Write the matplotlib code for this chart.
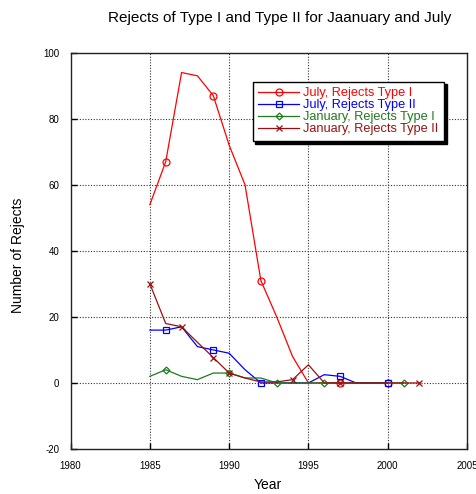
import matplotlib
matplotlib.use("Agg")
import matplotlib.pyplot as plt

plt.rcParams['font.family'] = ['Liberation Sans', 'DejaVu Sans']
plt.rcParams['axes.unicode_minus'] = False

# Data
years_jul1 = [1985, 1986, 1987, 1988, 1989, 1990, 1991, 1992, 1993, 1994, 1995, 1996, 1997, 1998, 1999, 2000]
jul_type1 = [54, 67, 94, 93, 87, 72, 60, 31, 20, 8, 0, 0, 0, 0, 0, 0]
mark_jul1 = [1, 4, 7, 12, 15]

years_jul2 = [1985, 1986, 1987, 1988, 1989, 1990, 1991, 1992, 1993, 1994, 1995, 1996, 1997, 1998, 2000]
jul_type2 = [16, 16, 17, 11, 10, 9, 4, 0, 0, 0, 0, 2.5, 2, 0, 0]
mark_jul2 = [1, 4, 7, 12, 14]

years_jan1 = [1985, 1986, 1987, 1988, 1989, 1990, 1991, 1992, 1993, 1994, 1995, 1996, 1997, 1998, 2000, 2001]
jan_type1 = [2, 4, 2, 1, 3, 3, 1.5, 1.5, 0, 0, 0, 0, 0, 0, 0, 0]
mark_jan1 = [1, 5, 8, 11, 15]

years_jan2 = [1985, 1986, 1987, 1988, 1989, 1990, 1991, 1992, 1993, 1994, 1995, 1996, 1997, 1998, 2000, 2002]
jan_type2 = [30, 18, 17, 12.3, 7.7, 3, 1.5, 0.3, 0.3, 1, 5.5, 0, 0, 0, 0, 0]
mark_jan2 = [0, 2, 4, 5, 9, 12, 15]

labels = ["July, Rejects Type I", "July, Rejects Type II",
          "January, Rejects Type I", "January, Rejects Type II"]
x_ticks = [1980, 1985, 1990, 1995, 2000, 2005]
y_ticks = [-20, 0, 20, 40, 60, 80, 100]

fig = plt.figure(figsize=(4.77, 4.94), dpi=100)
ax = fig.add_axes([0.148, 0.0911, 0.831, 0.8022])

red = '#ff0000'
blue = '#0000ff'
green = '#1e7a1e'
brown = '#9a1010'

ax.plot(years_jul1, jul_type1, color=red, lw=0.9, marker='o', ms=5, mfc='none',
        mec=red, mew=0.9, markevery=mark_jul1, label=labels[0])
ax.plot(years_jul2, jul_type2, color=blue, lw=0.9, marker='s', ms=5, mfc='none',
        mec=blue, mew=0.9, markevery=mark_jul2, label=labels[1])
ax.plot(years_jan1, jan_type1, color=green, lw=0.9, marker='D', ms=3.5, mfc='none',
        mec=green, mew=0.9, markevery=mark_jan1, label=labels[2])
ax.plot(years_jan2, jan_type2, color=brown, lw=0.9, marker='x', ms=5,
        mec=brown, mew=0.9, markevery=mark_jan2, label=labels[3])

ax.set_xlim(1980, 2005)
ax.set_ylim(-20, 100)
ax.set_xticks(x_ticks)
ax.set_yticks(y_ticks)
ax.tick_params(direction='in', length=4, labelsize=7, pad=8, width=1)
ax.tick_params(axis='x', pad=9)
for s in ax.spines.values():
    s.set_linewidth(1)
    s.set_color('#222222')

for xv in x_ticks[1:-1]:
    ax.axvline(xv, color='#333333', lw=0.8, ls=(0, (1, 1.5)), zorder=0)
for yv in y_ticks[1:-1]:
    ax.axhline(yv, color='#333333', lw=0.8, ls=(0, (1, 1.5)), zorder=0)

fig.text(0.587, 0.9636, "Rejects of Type I and Type II for Jaanuary and July",
         ha='center', va='center', fontsize=11)
fig.text(0.562, 0.018, "Year", ha='center', va='center', fontsize=10)
fig.text(0.038, 0.484, "Number of Rejects", ha='center', va='center',
         fontsize=10, rotation=90)

leg = ax.legend(loc='upper left', bbox_to_anchor=(0.459, 0.927), borderaxespad=0,
                fontsize=9.2, labelcolor='linecolor', frameon=True, fancybox=False,
                shadow={'color': 'black', 'alpha': 1}, handlelength=3.2,
                handletextpad=0.3, labelspacing=0.0, borderpad=0.45)
leg.get_frame().set_edgecolor('black')
leg.get_frame().set_linewidth(1)
leg.get_frame().set_alpha(1)

fig.savefig("out.png", dpi=100)
